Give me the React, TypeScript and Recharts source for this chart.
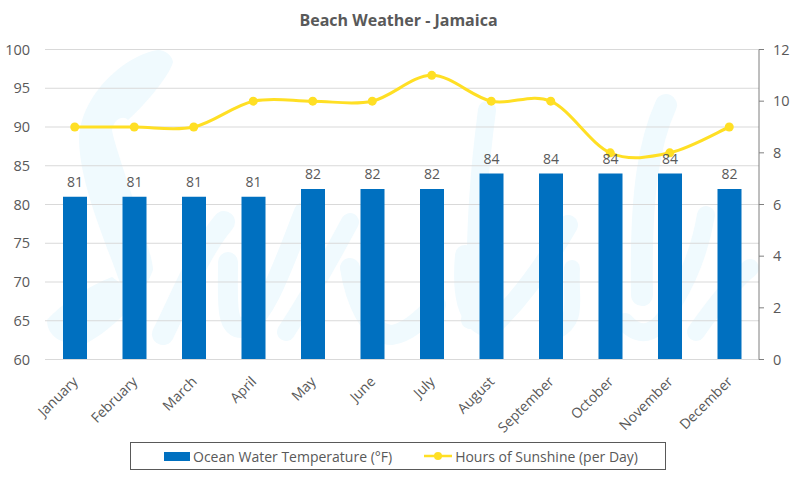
import React from 'react';
import { ComposedChart, Bar, Line, XAxis, YAxis, CartesianGrid, LabelList } from 'recharts';

const months = ['January', 'February', 'March', 'April', 'May', 'June', 'July', 'August', 'September', 'October', 'November', 'December'];
const waterTemp = [81, 81, 81, 81, 82, 82, 82, 84, 84, 84, 84, 82];
const sunshine = [9, 9, 9, 10, 10, 10, 11, 10, 10, 8, 8, 9];
const tempTicks = [60, 65, 70, 75, 80, 85, 90, 95, 100];
const sunTicks = [0, 2, 4, 6, 8, 10, 12];

const data = months.map((month, i) => ({ month, temp: waterTemp[i], sun: sunshine[i] }));

const FONT = '"Open Sans", sans-serif';
const GREY = '#595959';
const YELLOW = '#FFDF24';

// Excel style smoothed line: catmull-rom with a 1/6 tangent
function excelCurve(ctx: any) {
  let pts: number[][] = [];
  return {
    areaStart() {},
    areaEnd() {},
    lineStart() { pts = []; },
    lineEnd() {
      pts.forEach((p, i) => {
        if (i === 0) { ctx.moveTo(p[0], p[1]); return; }
        const a = pts[Math.max(i - 2, 0)];
        const b = pts[i - 1];
        const c = pts[Math.min(i + 1, pts.length - 1)];
        ctx.bezierCurveTo(
          b[0] + (p[0] - a[0]) / 6, b[1] + (p[1] - a[1]) / 6,
          p[0] - (c[0] - b[0]) / 6, p[1] - (c[1] - b[1]) / 6,
          p[0], p[1],
        );
      });
    },
    point(x: number, y: number) { pts.push([+x, +y]); },
  };
}

const MonthTick = ({ x, y, payload }: any) => (
  <text x={x + 4} y={y + 15} textAnchor="end" fontSize={14} fill={GREY} fontFamily={FONT} transform={`rotate(-45 ${x + 4} ${y + 15})`}>
    {payload.value}
  </text>
);

const ChartLegend = () => (
  <div style={{ position: 'absolute', left: 130, top: 442, width: 534, height: 26, border: '1px solid #595959', display: 'flex', alignItems: 'center', fontFamily: FONT, fontSize: 14, color: GREY, whiteSpace: 'nowrap' }}>
    <span style={{ marginLeft: 33, width: 26, height: 9, background: '#0070C0', marginRight: 3 }} />
    <span>Ocean Water Temperature (°F)</span>
    <svg width={28} height={10} style={{ marginLeft: 32, marginRight: 3 }}>
      <line x1={0} y1={5} x2={28} y2={5} stroke={YELLOW} strokeWidth={2.5} />
      <circle cx={14} cy={5} r={4} fill={YELLOW} />
    </svg>
    <span>Hours of Sunshine (per Day)</span>
  </div>
);

// faint script logo behind the plot
const Watermark = () => (
  <svg width={799} height={478} style={{ position: 'absolute', left: 0, top: 0 }}>
    <path
      fill="#F0FAFE"
      d="M158 50 C125 55 80 95 79 140 C80 185 105 240 120 283 L112 277 C90 285 60 305 47 320 C47 335 60 345 83 345 C105 335 140 305 153 270 C153 250 115 150 112 130 C114 118 124 115 128 120 C145 105 170 75 173 62 C172 55 165 50 158 50 Z"
    />
    <g fill="none" stroke="#F0FAFE" strokeLinecap="round" strokeLinejoin="round">
      <path d="M163 334 C180 300 200 250 224 222" strokeWidth={22} />
      <path d="M228 262 C228 300 225 328 242 328 C265 320 285 260 304 212" strokeWidth={20} />
      <path d="M286 332 C310 295 335 250 350 222" strokeWidth={18} />
      <path d="M350 268 C355 300 370 335 392 335 C410 332 425 315 436 305" strokeWidth={20} />
      <path d="M470 320 C480 280 470 240 487 110" strokeWidth={18} />
      <path d="M465 255 C462 290 465 322 490 328 C520 300 545 265 568 225" strokeWidth={20} />
      <path d="M572 268 C570 300 580 320 555 332" strokeWidth={16} />
      <path d="M625 322 C640 340 660 335 675 300 C690 275 700 250 706 215" strokeWidth={18} />
      <path d="M666 105 C650 140 640 190 642 295" strokeWidth={22} />
      <path d="M696 332 C715 305 735 280 750 268" strokeWidth={18} />
    </g>
  </svg>
);

export default function App() {
  return (
    <div style={{ position: 'absolute', left: 0, top: 0, width: 799, height: 478, background: '#fff', overflow: 'hidden' }}>
      <Watermark />
      <div style={{ position: 'absolute', left: 0, top: 9, width: 797, textAlign: 'center', fontFamily: FONT, fontWeight: 700, fontSize: 16, color: GREY }}>
        Beach Weather - Jamaica
      </div>
      <div style={{ position: 'absolute', left: 0, top: 0 }}>
        <ComposedChart width={799} height={478} data={data} margin={{ top: 49.5, right: 0, bottom: 0, left: 0 }}>
          <CartesianGrid vertical={false} stroke="#D9D9D9" yAxisId="left" />
          <XAxis dataKey="month" interval={0} tick={<MonthTick />} tickLine={false} axisLine={{ stroke: '#D9D9D9' }} height={118.5} />
          <YAxis yAxisId="left" domain={[60, 100]} ticks={tempTicks} width={45} axisLine={false} tickLine={false} tick={{ fontSize: 14.5, fill: GREY, fontFamily: FONT }} tickMargin={9} />
          <YAxis yAxisId="right" orientation="right" domain={[0, 12]} ticks={sunTicks} width={40} axisLine={{ stroke: '#7F7F7F' }} tickLine={{ stroke: '#7F7F7F' }} tickSize={5} tick={{ fontSize: 14.5, fill: GREY, fontFamily: FONT }} tickMargin={9} />
          <Bar yAxisId="left" dataKey="temp" name="Ocean Water Temperature (°F)" fill="#0070C0" barSize={24} isAnimationActive={false}>
            <LabelList dataKey="temp" position="top" offset={10} fontSize={14} fill={GREY} fontFamily={FONT} />
          </Bar>
          <Line yAxisId="right" dataKey="sun" name="Hours of Sunshine (per Day)" type={excelCurve as any} stroke={YELLOW} strokeWidth={3} dot={{ r: 4.5, fill: YELLOW, stroke: YELLOW, strokeWidth: 0 }} isAnimationActive={false} />
        </ComposedChart>
      </div>
      <ChartLegend />
    </div>
  );
}
